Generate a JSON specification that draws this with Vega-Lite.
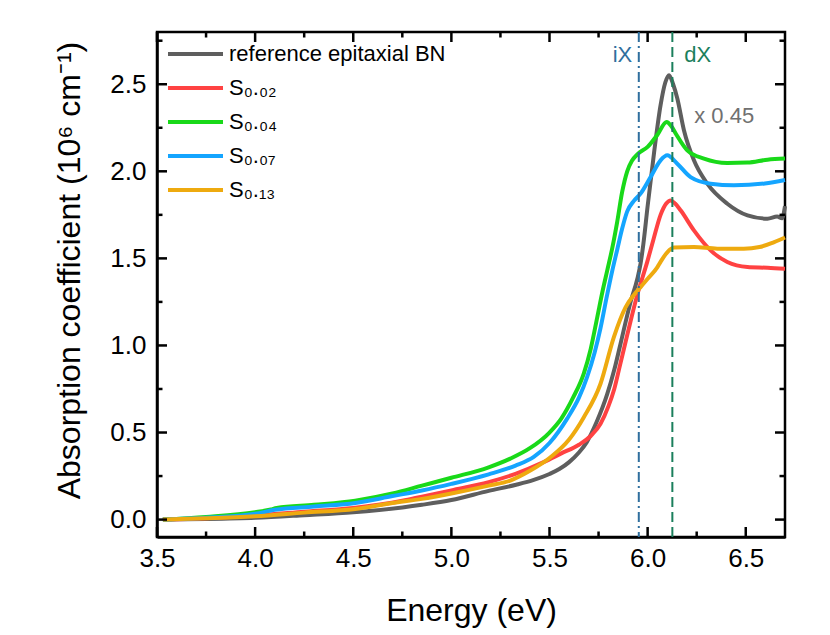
{
"$schema": "https://vega.github.io/schema/vega-lite/v6.json",
"width": 628, "height": 505,
"autosize": {"type": "none"},
"padding": {"left": 157, "top": 32, "right": 45, "bottom": 98},
"background": "white",
"config": {"view": {"stroke": "black", "strokeWidth": 2.5}, "font": "Liberation Sans"},
"datasets": {
"xmajor": [{"E":3.5},{"E":4.0},{"E":4.5},{"E":5.0},{"E":5.5},{"E":6.0},{"E":6.5}],
"xminor": [{"E":3.75},{"E":4.25},{"E":4.75},{"E":5.25},{"E":5.75},{"E":6.25}],
"ymajor": [{"v":0},{"v":0.5},{"v":1.0},{"v":1.5},{"v":2.0},{"v":2.5}],
"yminor": [{"v":0.25},{"v":0.75},{"v":1.25},{"v":1.75},{"v":2.25},{"v":2.75}],
"curves": [
{"s":"reference epitaxial BN","E":3.53,"v":0},{"s":"reference epitaxial BN","E":3.75,"v":0.003},{"s":"reference epitaxial BN","E":4.0,"v":0.01},{"s":"reference epitaxial BN","E":4.25,"v":0.025},{"s":"reference epitaxial BN","E":4.5,"v":0.042},{"s":"reference epitaxial BN","E":4.75,"v":0.07},{"s":"reference epitaxial BN","E":4.85,"v":0.085},{"s":"reference epitaxial BN","E":5.0,"v":0.112},{"s":"reference epitaxial BN","E":5.19,"v":0.165},{"s":"reference epitaxial BN","E":5.33,"v":0.2},{"s":"reference epitaxial BN","E":5.42,"v":0.228},{"s":"reference epitaxial BN","E":5.5,"v":0.262},{"s":"reference epitaxial BN","E":5.55,"v":0.29},{"s":"reference epitaxial BN","E":5.6,"v":0.33},{"s":"reference epitaxial BN","E":5.65,"v":0.385},{"s":"reference epitaxial BN","E":5.69,"v":0.445},{"s":"reference epitaxial BN","E":5.74,"v":0.56},{"s":"reference epitaxial BN","E":5.794,"v":0.72},{"s":"reference epitaxial BN","E":5.83,"v":0.86},{"s":"reference epitaxial BN","E":5.862,"v":1.01},{"s":"reference epitaxial BN","E":5.913,"v":1.25},{"s":"reference epitaxial BN","E":5.947,"v":1.38},{"s":"reference epitaxial BN","E":5.964,"v":1.47},{"s":"reference epitaxial BN","E":5.978,"v":1.58},{"s":"reference epitaxial BN","E":6.0,"v":1.8},{"s":"reference epitaxial BN","E":6.032,"v":2.1},{"s":"reference epitaxial BN","E":6.066,"v":2.38},{"s":"reference epitaxial BN","E":6.09,"v":2.51},{"s":"reference epitaxial BN","E":6.109,"v":2.552},{"s":"reference epitaxial BN","E":6.13,"v":2.5},{"s":"reference epitaxial BN","E":6.151,"v":2.42},{"s":"reference epitaxial BN","E":6.185,"v":2.236},{"s":"reference epitaxial BN","E":6.236,"v":2.063},{"s":"reference epitaxial BN","E":6.304,"v":1.929},{"s":"reference epitaxial BN","E":6.406,"v":1.814},{"s":"reference epitaxial BN","E":6.509,"v":1.747},{"s":"reference epitaxial BN","E":6.611,"v":1.728},{"s":"reference epitaxial BN","E":6.66,"v":1.74},{"s":"reference epitaxial BN","E":6.685,"v":1.73},{"s":"reference epitaxial BN","E":6.7,"v":1.8},
{"s":"S₀.₀₂","E":3.53,"v":0},{"s":"S₀.₀₂","E":3.75,"v":0.008},{"s":"S₀.₀₂","E":4.0,"v":0.023},{"s":"S₀.₀₂","E":4.25,"v":0.045},{"s":"S₀.₀₂","E":4.5,"v":0.067},{"s":"S₀.₀₂","E":4.75,"v":0.108},{"s":"S₀.₀₂","E":4.85,"v":0.132},{"s":"S₀.₀₂","E":5.0,"v":0.168},{"s":"S₀.₀₂","E":5.19,"v":0.215},{"s":"S₀.₀₂","E":5.33,"v":0.264},{"s":"S₀.₀₂","E":5.47,"v":0.33},{"s":"S₀.₀₂","E":5.56,"v":0.38},{"s":"S₀.₀₂","E":5.65,"v":0.43},{"s":"S₀.₀₂","E":5.71,"v":0.48},{"s":"S₀.₀₂","E":5.76,"v":0.55},{"s":"S₀.₀₂","E":5.8,"v":0.65},{"s":"S₀.₀₂","E":5.83,"v":0.75},{"s":"S₀.₀₂","E":5.86,"v":0.89},{"s":"S₀.₀₂","E":5.896,"v":1.06},{"s":"S₀.₀₂","E":5.947,"v":1.29},{"s":"S₀.₀₂","E":5.998,"v":1.48},{"s":"S₀.₀₂","E":6.03,"v":1.61},{"s":"S₀.₀₂","E":6.066,"v":1.75},{"s":"S₀.₀₂","E":6.095,"v":1.815},{"s":"S₀.₀₂","E":6.117,"v":1.833},{"s":"S₀.₀₂","E":6.14,"v":1.815},{"s":"S₀.₀₂","E":6.168,"v":1.776},{"s":"S₀.₀₂","E":6.236,"v":1.661},{"s":"S₀.₀₂","E":6.321,"v":1.546},{"s":"S₀.₀₂","E":6.406,"v":1.479},{"s":"S₀.₀₂","E":6.509,"v":1.45},{"s":"S₀.₀₂","E":6.611,"v":1.446},{"s":"S₀.₀₂","E":6.7,"v":1.44},
{"s":"S₀.₀₄","E":3.53,"v":0},{"s":"S₀.₀₄","E":3.75,"v":0.015},{"s":"S₀.₀₄","E":4.0,"v":0.042},{"s":"S₀.₀₄","E":4.08,"v":0.058},{"s":"S₀.₀₄","E":4.11,"v":0.067},{"s":"S₀.₀₄","E":4.3,"v":0.085},{"s":"S₀.₀₄","E":4.51,"v":0.109},{"s":"S₀.₀₄","E":4.7,"v":0.15},{"s":"S₀.₀₄","E":4.85,"v":0.195},{"s":"S₀.₀₄","E":5.0,"v":0.24},{"s":"S₀.₀₄","E":5.19,"v":0.3},{"s":"S₀.₀₄","E":5.3,"v":0.35},{"s":"S₀.₀₄","E":5.4,"v":0.41},{"s":"S₀.₀₄","E":5.5,"v":0.5},{"s":"S₀.₀₄","E":5.56,"v":0.58},{"s":"S₀.₀₄","E":5.62,"v":0.7},{"s":"S₀.₀₄","E":5.675,"v":0.84},{"s":"S₀.₀₄","E":5.71,"v":0.98},{"s":"S₀.₀₄","E":5.743,"v":1.16},{"s":"S₀.₀₄","E":5.77,"v":1.31},{"s":"S₀.₀₄","E":5.794,"v":1.43},{"s":"S₀.₀₄","E":5.82,"v":1.56},{"s":"S₀.₀₄","E":5.845,"v":1.71},{"s":"S₀.₀₄","E":5.87,"v":1.88},{"s":"S₀.₀₄","E":5.896,"v":2.0},{"s":"S₀.₀₄","E":5.92,"v":2.06},{"s":"S₀.₀₄","E":5.95,"v":2.1},{"s":"S₀.₀₄","E":6.0,"v":2.14},{"s":"S₀.₀₄","E":6.05,"v":2.21},{"s":"S₀.₀₄","E":6.097,"v":2.283},{"s":"S₀.₀₄","E":6.12,"v":2.26},{"s":"S₀.₀₄","E":6.143,"v":2.217},{"s":"S₀.₀₄","E":6.202,"v":2.12},{"s":"S₀.₀₄","E":6.287,"v":2.073},{"s":"S₀.₀₄","E":6.406,"v":2.048},{"s":"S₀.₀₄","E":6.509,"v":2.05},{"s":"S₀.₀₄","E":6.611,"v":2.067},{"s":"S₀.₀₄","E":6.7,"v":2.073},
{"s":"S₀.₀₇","E":3.53,"v":0},{"s":"S₀.₀₇","E":3.75,"v":0.01},{"s":"S₀.₀₇","E":4.0,"v":0.033},{"s":"S₀.₀₇","E":4.1,"v":0.056},{"s":"S₀.₀₇","E":4.3,"v":0.075},{"s":"S₀.₀₇","E":4.51,"v":0.095},{"s":"S₀.₀₇","E":4.7,"v":0.135},{"s":"S₀.₀₇","E":4.85,"v":0.167},{"s":"S₀.₀₇","E":5.0,"v":0.205},{"s":"S₀.₀₇","E":5.19,"v":0.26},{"s":"S₀.₀₇","E":5.327,"v":0.31},{"s":"S₀.₀₇","E":5.42,"v":0.36},{"s":"S₀.₀₇","E":5.5,"v":0.44},{"s":"S₀.₀₇","E":5.59,"v":0.58},{"s":"S₀.₀₇","E":5.65,"v":0.7},{"s":"S₀.₀₇","E":5.692,"v":0.82},{"s":"S₀.₀₇","E":5.73,"v":0.96},{"s":"S₀.₀₇","E":5.76,"v":1.1},{"s":"S₀.₀₇","E":5.79,"v":1.27},{"s":"S₀.₀₇","E":5.82,"v":1.43},{"s":"S₀.₀₇","E":5.845,"v":1.55},{"s":"S₀.₀₇","E":5.87,"v":1.67},{"s":"S₀.₀₇","E":5.896,"v":1.77},{"s":"S₀.₀₇","E":5.93,"v":1.83},{"s":"S₀.₀₇","E":5.964,"v":1.872},{"s":"S₀.₀₇","E":6.015,"v":1.967},{"s":"S₀.₀₇","E":6.066,"v":2.063},{"s":"S₀.₀₇","E":6.1,"v":2.092},{"s":"S₀.₀₇","E":6.151,"v":2.044},{"s":"S₀.₀₇","E":6.219,"v":1.967},{"s":"S₀.₀₇","E":6.321,"v":1.929},{"s":"S₀.₀₇","E":6.44,"v":1.92},{"s":"S₀.₀₇","E":6.597,"v":1.93},{"s":"S₀.₀₇","E":6.7,"v":1.95},
{"s":"S₀.₁₃","E":3.53,"v":0},{"s":"S₀.₁₃","E":3.75,"v":0.007},{"s":"S₀.₁₃","E":4.0,"v":0.019},{"s":"S₀.₁₃","E":4.25,"v":0.04},{"s":"S₀.₁₃","E":4.51,"v":0.061},{"s":"S₀.₁₃","E":4.7,"v":0.095},{"s":"S₀.₁₃","E":4.85,"v":0.119},{"s":"S₀.₁₃","E":5.0,"v":0.15},{"s":"S₀.₁₃","E":5.19,"v":0.195},{"s":"S₀.₁₃","E":5.3,"v":0.224},{"s":"S₀.₁₃","E":5.4,"v":0.28},{"s":"S₀.₁₃","E":5.505,"v":0.358},{"s":"S₀.₁₃","E":5.6,"v":0.46},{"s":"S₀.₁₃","E":5.675,"v":0.588},{"s":"S₀.₁₃","E":5.76,"v":0.78},{"s":"S₀.₁₃","E":5.828,"v":1.048},{"s":"S₀.₁₃","E":5.888,"v":1.22},{"s":"S₀.₁₃","E":5.93,"v":1.29},{"s":"S₀.₁₃","E":5.964,"v":1.335},{"s":"S₀.₁₃","E":5.998,"v":1.38},{"s":"S₀.₁₃","E":6.05,"v":1.45},{"s":"S₀.₁₃","E":6.066,"v":1.48},{"s":"S₀.₁₃","E":6.1,"v":1.535},{"s":"S₀.₁₃","E":6.134,"v":1.562},{"s":"S₀.₁₃","E":6.236,"v":1.565},{"s":"S₀.₁₃","E":6.355,"v":1.556},{"s":"S₀.₁₃","E":6.49,"v":1.556},{"s":"S₀.₁₃","E":6.57,"v":1.565},{"s":"S₀.₁₃","E":6.645,"v":1.594},{"s":"S₀.₁₃","E":6.7,"v":1.62}
]},
"layer": [
  {"data": {"name": "curves"},
   "mark": {"type": "line", "strokeWidth": 4, "interpolate": "monotone"},
   "encoding": {
    "x": {"field": "E", "type": "quantitative",
      "scale": {"domain": [3.5, 6.7], "nice": false, "zero": false},
      "axis": {"values": [3.5,4,4.5,5,5.5,6,6.5], "format": ".1f",
        "ticks": false, "domain": true, "domainColor": "black", "domainWidth": 2.5, "grid": false,
        "labelFontSize": 26, "labelColor": "black", "labelPadding": 8, "labelFont": "Liberation Sans", "labelFlush": false,
        "title": "Energy (eV)", "titleFontSize": 32, "titleFontWeight": "normal", "titleColor": "black", "titleFont": "Liberation Sans", "titleY": 83, "titleBaseline": "alphabetic"}},
    "y": {"field": "v", "type": "quantitative",
      "scale": {"domain": [-0.1, 2.8], "nice": false, "zero": false},
      "axis": {"values": [0,0.5,1,1.5,2,2.5], "format": ".1f",
        "ticks": false, "domain": true, "domainColor": "black", "domainWidth": 2.5, "grid": false,
        "labelFontSize": 26, "labelColor": "black", "labelPadding": 11, "labelFont": "Liberation Sans", "labelFlush": false,
        "title": "Absorption coefficient (10⁶ cm⁻¹)", "titleFontSize": 32, "titleFontWeight": "normal", "titleColor": "black", "titleFont": "Liberation Sans",
        "titleX": -78, "titleY": 238, "titleAngle": 270, "titleAlign": "center", "titleBaseline": "alphabetic"}},
    "color": {"field": "s", "type": "nominal",
      "scale": {"domain": ["reference epitaxial BN","S₀.₀₂","S₀.₀₄","S₀.₀₇","S₀.₁₃"], "range": ["#5e5e5e","#ff4242","#19d919","#14a5ff","#eeaa0f"]},
      "legend": {"orient": "none", "legendX": 25.5, "legendY": 9, "title": null, "symbolType": "M-2.5,0H2.5", "symbolSize": 484, "symbolStrokeWidth": 4, "labelFontSize": 22, "labelFont": "Liberation Sans", "labelColor": "black", "labelOffset": 20.5, "labelLimit": 400, "rowPadding": 10, "padding": 0}}
   }},
  {"data": {"values": [{"E": 5.955}]},
   "mark": {"type": "rule", "color": "#2f6f9e", "strokeWidth": 2, "strokeDash": [10, 4, 2, 4]},
   "encoding": {"x": {"field": "E", "type": "quantitative"}}},
  {"data": {"values": [{"E": 6.126}]},
   "mark": {"type": "rule", "color": "#1b7f5c", "strokeWidth": 2, "strokeDash": [10, 5]},
   "encoding": {"x": {"field": "E", "type": "quantitative"}}},
  {"data": {"values": [{"E": 5.872, "v": 2.667, "t": "iX"}]},
   "mark": {"type": "text", "fontSize": 22, "color": "#2f6f9e", "font": "Liberation Sans", "align": "center", "baseline": "middle"},
   "encoding": {"x": {"field": "E", "type": "quantitative"}, "y": {"field": "v", "type": "quantitative"}, "text": {"field": "t"}}},
  {"data": {"values": [{"E": 6.255, "v": 2.667, "t": "dX"}]},
   "mark": {"type": "text", "fontSize": 22, "color": "#1b7f5c", "font": "Liberation Sans", "align": "center", "baseline": "middle"},
   "encoding": {"x": {"field": "E", "type": "quantitative"}, "y": {"field": "v", "type": "quantitative"}, "text": {"field": "t"}}},
  {"data": {"values": [{"E": 6.39, "v": 2.32, "t": "x 0.45"}]},
   "mark": {"type": "text", "fontSize": 22, "color": "#707070", "font": "Liberation Sans", "align": "center", "baseline": "middle"},
   "encoding": {"x": {"field": "E", "type": "quantitative"}, "y": {"field": "v", "type": "quantitative"}, "text": {"field": "t"}}},
  {"data": {"name": "xmajor"},
   "mark": {"type": "rule", "strokeWidth": 2.5, "color": "black"},
   "encoding": {"x": {"field": "E", "type": "quantitative"}, "y": {"datum": -0.1}, "y2": {"datum": -0.0425}}},
  {"data": {"name": "xmajor"},
   "mark": {"type": "rule", "strokeWidth": 2.5, "color": "black"},
   "encoding": {"x": {"field": "E", "type": "quantitative"}, "y": {"datum": 2.8}, "y2": {"datum": 2.7425}}},
  {"data": {"name": "xminor"},
   "mark": {"type": "rule", "strokeWidth": 2.5, "color": "black"},
   "encoding": {"x": {"field": "E", "type": "quantitative"}, "y": {"datum": -0.1}, "y2": {"datum": -0.0684}}},
  {"data": {"name": "xminor"},
   "mark": {"type": "rule", "strokeWidth": 2.5, "color": "black"},
   "encoding": {"x": {"field": "E", "type": "quantitative"}, "y": {"datum": 2.8}, "y2": {"datum": 2.7684}}},
  {"data": {"name": "ymajor"},
   "mark": {"type": "rule", "strokeWidth": 2.5, "color": "black"},
   "encoding": {"y": {"field": "v", "type": "quantitative"}, "x": {"datum": 3.5}, "x2": {"datum": 3.551}}},
  {"data": {"name": "ymajor"},
   "mark": {"type": "rule", "strokeWidth": 2.5, "color": "black"},
   "encoding": {"y": {"field": "v", "type": "quantitative"}, "x": {"datum": 6.7}, "x2": {"datum": 6.649}}},
  {"data": {"name": "yminor"},
   "mark": {"type": "rule", "strokeWidth": 2.5, "color": "black"},
   "encoding": {"y": {"field": "v", "type": "quantitative"}, "x": {"datum": 3.5}, "x2": {"datum": 3.528}}},
  {"data": {"name": "yminor"},
   "mark": {"type": "rule", "strokeWidth": 2.5, "color": "black"},
   "encoding": {"y": {"field": "v", "type": "quantitative"}, "x": {"datum": 6.7}, "x2": {"datum": 6.672}}}
]
}
